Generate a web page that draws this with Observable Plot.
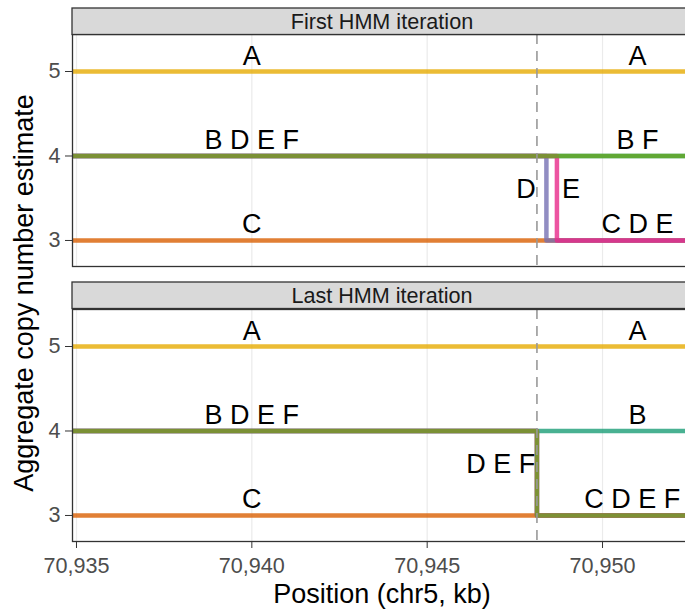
<!DOCTYPE html>
<html><head><meta charset="utf-8">
<script src="https://cdn.jsdelivr.net/npm/d3@7"></script>
<script src="https://cdn.jsdelivr.net/npm/@observablehq/plot@0.6"></script>
<style>
html,body{margin:0;padding:0;overflow:hidden;background:#fff}
#wrap{position:relative;width:685px;height:610px;overflow:hidden;font-family:"Liberation Sans",Arial,sans-serif}
#wrap > *{position:absolute;left:0;max-width:none !important}
</style></head><body><div id="wrap"></div>
<script>
// ---- data ----
const samples = ["A","B","C","D","E","F"];
const panelTitles = ["First HMM iteration","Last HMM iteration"];
// copy number left / right of the breakpoint, per sample
const firstLeft  = [5,4,3,4,4,4];
const firstRight = [5,4,3,3,3,4];
const firstBreaks = [null,null,null,70948.4,70948.7,null];
const lastLeft  = [5,4,3,4,4,4];
const lastRight = [5,4,3,3,3,3];
const lastBreaks = [null,null,null,70948.13,70948.13,70948.13];
const xStart = 70934.886, xEnd = 70952.566;
const breakpoint = 70948.13;      // dashed line
const sampleColors = ["#E6AB02","#1B9E77","#D95F02","#7570B3","#E7298A","#66A61E"];
const xTicks = [70935,70940,70945,70950];
const yTicks = [3,4,5];
const yDomain = [2.692,5.438];
// labels over the levels
const firstLevelLabels = [
  {x:70940,y:5,text:"A"},{x:70940,y:4,text:"B D E F"},{x:70940,y:3,text:"C"},
  {x:70951,y:5,text:"A"},{x:70951,y:4,text:"B F"},{x:70951,y:3,text:"C D E"}];
const firstJumpLabels = [{x:70947.82,y:3.5,text:"D"},{x:70949.1,y:3.5,text:"E"}];
const lastLevelLabels = [
  {x:70940,y:5,text:"A"},{x:70940,y:4,text:"B D E F"},{x:70940,y:3,text:"C"},
  {x:70951,y:5,text:"A"},{x:70951,y:4,text:"B"},{x:70950.85,y:3,text:"C D E F"}];
const lastJumpLabels = [{x:70947.1,y:3.5,text:"D E F"}];

function pathData(left, right, breaks){
  const rows = [];
  samples.forEach((s,i)=>{
    if (breaks[i] == null) {
      rows.push({sample:s,x:xStart,y:left[i]},{sample:s,x:xEnd,y:right[i]});
    } else {
      rows.push({sample:s,x:xStart,y:left[i]},{sample:s,x:breaks[i],y:left[i]},
                {sample:s,x:breaks[i],y:right[i]},{sample:s,x:xEnd,y:right[i]});
    }
  });
  return rows;
}

const FONT = "Liberation Sans, Arial, sans-serif";
function panel(rows, levelLabels, jumpLabels, withX){
  return Plot.plot({
    width: 692, height: withX ? 301 : 232,
    marginLeft: 72, marginRight: 0, marginTop: 0, marginBottom: withX ? 69 : 0,
    style: {fontFamily: FONT, fontSize: "21.6px", color: "#4D4D4D", background: "transparent", overflow: "visible", maxWidth: "none"},
    x: {domain: [xStart, xEnd], axis: null},
    y: {domain: yDomain, axis: null},
    color: {domain: samples, range: sampleColors},
    marks: [
      Plot.ruleX(xTicks, {stroke: "#EBEBEB", strokeWidth: 1.2}),
      Plot.line(rows, {x:"x", y:"y", z:"sample", stroke:"sample", strokeWidth:4.5, strokeOpacity:0.8, strokeLinejoin:"round", strokeLinecap:"butt", curve:"linear"}),
      Plot.ruleX([breakpoint], {stroke:"#999999", strokeWidth:1.6, strokeDasharray:"10,7"}),
      Plot.text(levelLabels, {x:"x", y:"y", text:"text", fill:"#000", fontSize:27, lineAnchor:"bottom", dy:-7, fontFamily: FONT}),
      Plot.text(jumpLabels, {x:"x", y:"y", text:"text", fill:"#000", fontSize:27, lineAnchor:"bottom", fontFamily: FONT}),
      Plot.frame({stroke:"#333333", strokeWidth:1.3}),
      Plot.axisY(yTicks, {tickSize:7, tickPadding:5, stroke:"#333333", fill:"#4D4D4D", label:null, tickFormat: d => String(d)}),
      ...(withX ? [Plot.axisX(xTicks, {tickSize:7, tickPadding:9, stroke:"#333333", fill:"#4D4D4D", label:null, tickFormat: d3.format(",")})] : [])
    ]
  });
}

const wrap = document.getElementById("wrap");
const p1 = panel(pathData(firstLeft, firstRight, firstBreaks), firstLevelLabels, firstJumpLabels, false);
p1.style.top = "34px";
wrap.appendChild(p1);
const p2 = panel(pathData(lastLeft, lastRight, lastBreaks), lastLevelLabels, lastJumpLabels, true);
p2.style.top = "309px";
wrap.appendChild(p2);

// strips and axis titles
const ov = d3.select(wrap).append("svg").attr("width", 692).attr("height", 610)
  .style("top", "0px").style("pointer-events", "none").style("font-family", FONT);
const stripTops = [8, 282];
panelTitles.forEach((t,i)=>{
  ov.append("rect").attr("x", 72).attr("y", stripTops[i]).attr("width", 620).attr("height", 26.5)
    .attr("fill", "#D9D9D9").attr("stroke", "#333333").attr("stroke-width", 1.3);
  ov.append("text").attr("x", 382).attr("y", stripTops[i] + 21).attr("text-anchor", "middle")
    .attr("font-size", 21.6).attr("fill", "#1A1A1A").text(t);
});
ov.append("text").attr("x", 382).attr("y", 603).attr("text-anchor", "middle")
  .attr("font-size", 27).attr("fill", "#000").text("Position (chr5, kb)");
ov.append("text").attr("transform", "translate(33,293) rotate(-90)").attr("text-anchor", "middle")
  .attr("font-size", 27).attr("fill", "#000").text("Aggregate copy number estimate");
</script></body></html>
